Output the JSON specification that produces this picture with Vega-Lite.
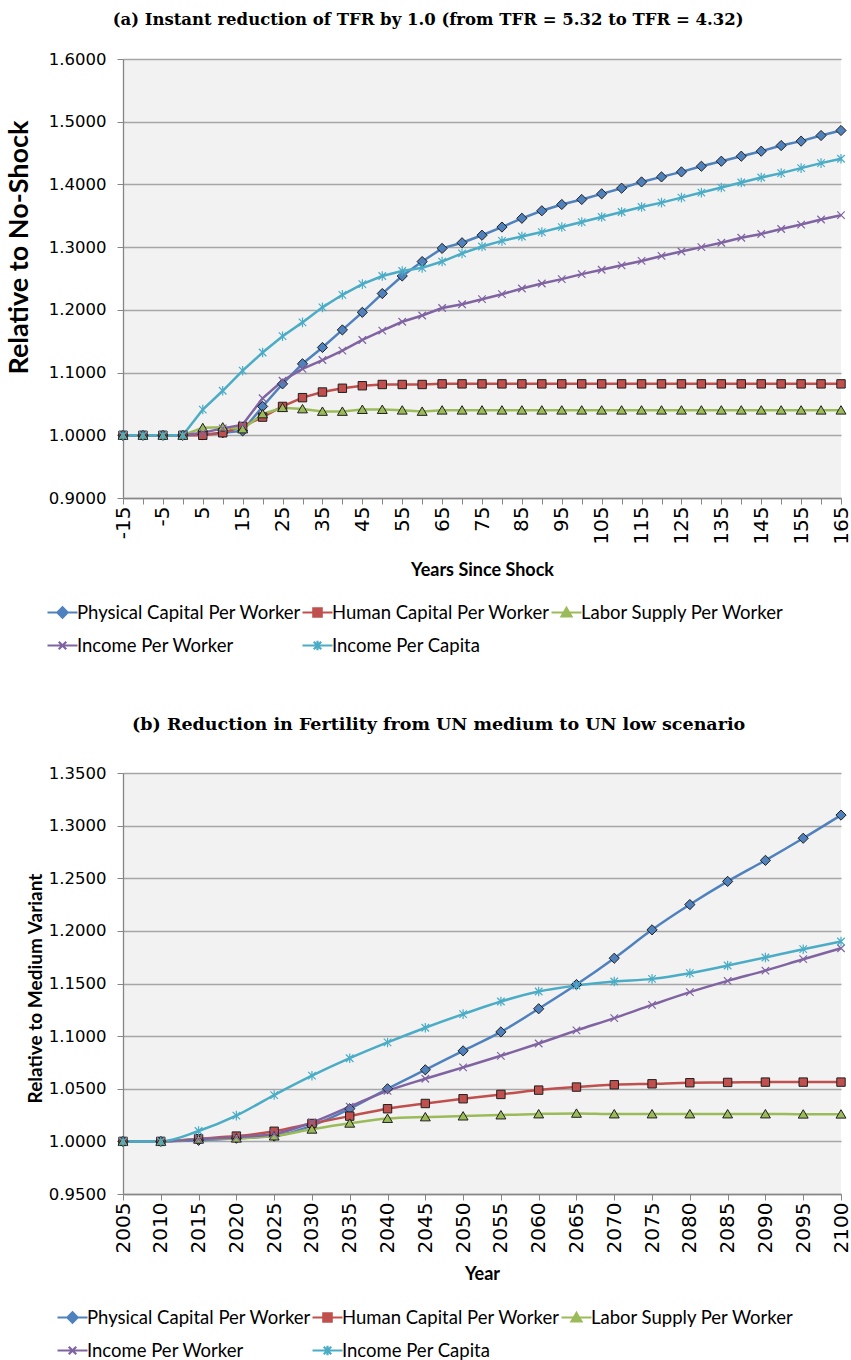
{
  "$schema": "https://vega.github.io/schema/vega-lite/v6.json",
  "background": "white",
  "padding": {"left": 5, "top": 11, "right": 5, "bottom": 5},
  "spacing": 60,
  "columns": 1,
  "align": "none",
  "config": {
    "view": {"stroke": null, "fill": "#F2F2F2"},
    "axis": {"labelFont": "DejaVu Sans", "labelFontSize": 16.5, "labelColor": "#000", "titleFont": "Lato", "titleFontSize": 18, "titleFontWeight": "bold", "titleColor": "#000", "domainColor": "#868686", "tickColor": "#868686", "gridColor": "#A6A6A6", "gridWidth": 1.3, "tickSize": 6, "domainWidth": 1.3},
    "axisX": {"grid": false, "labelAngle": 270, "labelPadding": 2, "labelFontSize": 20, "labelOverlap": false, "titlePadding": 17},
    "axisY": {"grid": true, "labelPadding": 11, "titlePadding": 8, "format": ".4f"},
    "legend": {"orient": "none", "direction": "horizontal", "columns": 3, "title": null, "labelFont": "Lato", "labelFontSize": 18.5, "labelColor": "#000", "labelLimit": 400, "symbolSize": 900, "symbolStrokeWidth": 2.2, "columnPadding": -6, "rowPadding": 7, "labelOffset": -2},
    "title": {"font": "DejaVu Serif", "fontSize": 16.5, "fontWeight": "bold", "color": "#000", "anchor": "middle", "frame": "bounds"}
  },
  "resolve": {"scale": {"color": "independent", "fill": "independent", "shape": "independent", "x": "independent", "y": "independent"}, "legend": {"color": "independent", "shape": "independent", "fill": "independent"}},
  "datasets": {
    "a": [
      {"s":"Physical Capital Per Worker","t":-15,"v":1},{"s":"Physical Capital Per Worker","t":-10,"v":1},{"s":"Physical Capital Per Worker","t":-5,"v":1},{"s":"Physical Capital Per Worker","t":0,"v":1},{"s":"Physical Capital Per Worker","t":5,"v":1.001},{"s":"Physical Capital Per Worker","t":10,"v":1.004},{"s":"Physical Capital Per Worker","t":15,"v":1.007},{"s":"Physical Capital Per Worker","t":20,"v":1.046},{"s":"Physical Capital Per Worker","t":25,"v":1.082},{"s":"Physical Capital Per Worker","t":30,"v":1.114},{"s":"Physical Capital Per Worker","t":35,"v":1.14},{"s":"Physical Capital Per Worker","t":40,"v":1.168},{"s":"Physical Capital Per Worker","t":45,"v":1.196},{"s":"Physical Capital Per Worker","t":50,"v":1.226},{"s":"Physical Capital Per Worker","t":55,"v":1.254},{"s":"Physical Capital Per Worker","t":60,"v":1.277},{"s":"Physical Capital Per Worker","t":65,"v":1.298},{"s":"Physical Capital Per Worker","t":70,"v":1.307},{"s":"Physical Capital Per Worker","t":75,"v":1.319},{"s":"Physical Capital Per Worker","t":80,"v":1.332},{"s":"Physical Capital Per Worker","t":85,"v":1.346},{"s":"Physical Capital Per Worker","t":90,"v":1.358},{"s":"Physical Capital Per Worker","t":95,"v":1.368},{"s":"Physical Capital Per Worker","t":100,"v":1.376},{"s":"Physical Capital Per Worker","t":105,"v":1.385},{"s":"Physical Capital Per Worker","t":110,"v":1.394},{"s":"Physical Capital Per Worker","t":115,"v":1.404},{"s":"Physical Capital Per Worker","t":120,"v":1.412},{"s":"Physical Capital Per Worker","t":125,"v":1.42},{"s":"Physical Capital Per Worker","t":130,"v":1.429},{"s":"Physical Capital Per Worker","t":135,"v":1.437},{"s":"Physical Capital Per Worker","t":140,"v":1.445},{"s":"Physical Capital Per Worker","t":145,"v":1.453},{"s":"Physical Capital Per Worker","t":150,"v":1.462},{"s":"Physical Capital Per Worker","t":155,"v":1.469},{"s":"Physical Capital Per Worker","t":160,"v":1.478},{"s":"Physical Capital Per Worker","t":165,"v":1.486},
      {"s":"Human Capital Per Worker","t":-15,"v":1},{"s":"Human Capital Per Worker","t":-10,"v":1},{"s":"Human Capital Per Worker","t":-5,"v":1},{"s":"Human Capital Per Worker","t":0,"v":1},{"s":"Human Capital Per Worker","t":5,"v":1.0},{"s":"Human Capital Per Worker","t":10,"v":1.004},{"s":"Human Capital Per Worker","t":15,"v":1.014},{"s":"Human Capital Per Worker","t":20,"v":1.029},{"s":"Human Capital Per Worker","t":25,"v":1.046},{"s":"Human Capital Per Worker","t":30,"v":1.06},{"s":"Human Capital Per Worker","t":35,"v":1.069},{"s":"Human Capital Per Worker","t":40,"v":1.075},{"s":"Human Capital Per Worker","t":45,"v":1.079},{"s":"Human Capital Per Worker","t":50,"v":1.081},{"s":"Human Capital Per Worker","t":55,"v":1.081},{"s":"Human Capital Per Worker","t":60,"v":1.081},{"s":"Human Capital Per Worker","t":65,"v":1.082},{"s":"Human Capital Per Worker","t":70,"v":1.082},{"s":"Human Capital Per Worker","t":75,"v":1.082},{"s":"Human Capital Per Worker","t":80,"v":1.082},{"s":"Human Capital Per Worker","t":85,"v":1.082},{"s":"Human Capital Per Worker","t":90,"v":1.082},{"s":"Human Capital Per Worker","t":95,"v":1.082},{"s":"Human Capital Per Worker","t":100,"v":1.082},{"s":"Human Capital Per Worker","t":105,"v":1.082},{"s":"Human Capital Per Worker","t":110,"v":1.082},{"s":"Human Capital Per Worker","t":115,"v":1.082},{"s":"Human Capital Per Worker","t":120,"v":1.082},{"s":"Human Capital Per Worker","t":125,"v":1.082},{"s":"Human Capital Per Worker","t":130,"v":1.082},{"s":"Human Capital Per Worker","t":135,"v":1.082},{"s":"Human Capital Per Worker","t":140,"v":1.082},{"s":"Human Capital Per Worker","t":145,"v":1.082},{"s":"Human Capital Per Worker","t":150,"v":1.082},{"s":"Human Capital Per Worker","t":155,"v":1.082},{"s":"Human Capital Per Worker","t":160,"v":1.082},{"s":"Human Capital Per Worker","t":165,"v":1.082},
      {"s":"Labor Supply Per Worker","t":-15,"v":1},{"s":"Labor Supply Per Worker","t":-10,"v":1},{"s":"Labor Supply Per Worker","t":-5,"v":1},{"s":"Labor Supply Per Worker","t":0,"v":1},{"s":"Labor Supply Per Worker","t":5,"v":1.012},{"s":"Labor Supply Per Worker","t":10,"v":1.013},{"s":"Labor Supply Per Worker","t":15,"v":1.01},{"s":"Labor Supply Per Worker","t":20,"v":1.034},{"s":"Labor Supply Per Worker","t":25,"v":1.044},{"s":"Labor Supply Per Worker","t":30,"v":1.042},{"s":"Labor Supply Per Worker","t":35,"v":1.038},{"s":"Labor Supply Per Worker","t":40,"v":1.038},{"s":"Labor Supply Per Worker","t":45,"v":1.041},{"s":"Labor Supply Per Worker","t":50,"v":1.041},{"s":"Labor Supply Per Worker","t":55,"v":1.04},{"s":"Labor Supply Per Worker","t":60,"v":1.038},{"s":"Labor Supply Per Worker","t":65,"v":1.04},{"s":"Labor Supply Per Worker","t":70,"v":1.04},{"s":"Labor Supply Per Worker","t":75,"v":1.04},{"s":"Labor Supply Per Worker","t":80,"v":1.04},{"s":"Labor Supply Per Worker","t":85,"v":1.04},{"s":"Labor Supply Per Worker","t":90,"v":1.04},{"s":"Labor Supply Per Worker","t":95,"v":1.04},{"s":"Labor Supply Per Worker","t":100,"v":1.04},{"s":"Labor Supply Per Worker","t":105,"v":1.04},{"s":"Labor Supply Per Worker","t":110,"v":1.04},{"s":"Labor Supply Per Worker","t":115,"v":1.04},{"s":"Labor Supply Per Worker","t":120,"v":1.04},{"s":"Labor Supply Per Worker","t":125,"v":1.04},{"s":"Labor Supply Per Worker","t":130,"v":1.04},{"s":"Labor Supply Per Worker","t":135,"v":1.04},{"s":"Labor Supply Per Worker","t":140,"v":1.04},{"s":"Labor Supply Per Worker","t":145,"v":1.04},{"s":"Labor Supply Per Worker","t":150,"v":1.04},{"s":"Labor Supply Per Worker","t":155,"v":1.04},{"s":"Labor Supply Per Worker","t":160,"v":1.04},{"s":"Labor Supply Per Worker","t":165,"v":1.04},
      {"s":"Income Per Worker","t":-15,"v":1},{"s":"Income Per Worker","t":-10,"v":1},{"s":"Income Per Worker","t":-5,"v":1},{"s":"Income Per Worker","t":0,"v":1},{"s":"Income Per Worker","t":5,"v":1.004},{"s":"Income Per Worker","t":10,"v":1.011},{"s":"Income Per Worker","t":15,"v":1.017},{"s":"Income Per Worker","t":20,"v":1.059},{"s":"Income Per Worker","t":25,"v":1.087},{"s":"Income Per Worker","t":30,"v":1.106},{"s":"Income Per Worker","t":35,"v":1.12},{"s":"Income Per Worker","t":40,"v":1.135},{"s":"Income Per Worker","t":45,"v":1.152},{"s":"Income Per Worker","t":50,"v":1.167},{"s":"Income Per Worker","t":55,"v":1.181},{"s":"Income Per Worker","t":60,"v":1.191},{"s":"Income Per Worker","t":65,"v":1.203},{"s":"Income Per Worker","t":70,"v":1.209},{"s":"Income Per Worker","t":75,"v":1.217},{"s":"Income Per Worker","t":80,"v":1.225},{"s":"Income Per Worker","t":85,"v":1.234},{"s":"Income Per Worker","t":90,"v":1.242},{"s":"Income Per Worker","t":95,"v":1.249},{"s":"Income Per Worker","t":100,"v":1.257},{"s":"Income Per Worker","t":105,"v":1.264},{"s":"Income Per Worker","t":110,"v":1.271},{"s":"Income Per Worker","t":115,"v":1.278},{"s":"Income Per Worker","t":120,"v":1.286},{"s":"Income Per Worker","t":125,"v":1.293},{"s":"Income Per Worker","t":130,"v":1.3},{"s":"Income Per Worker","t":135,"v":1.307},{"s":"Income Per Worker","t":140,"v":1.315},{"s":"Income Per Worker","t":145,"v":1.321},{"s":"Income Per Worker","t":150,"v":1.329},{"s":"Income Per Worker","t":155,"v":1.336},{"s":"Income Per Worker","t":160,"v":1.344},{"s":"Income Per Worker","t":165,"v":1.351},
      {"s":"Income Per Capita","t":-15,"v":1},{"s":"Income Per Capita","t":-10,"v":1},{"s":"Income Per Capita","t":-5,"v":1},{"s":"Income Per Capita","t":0,"v":1},{"s":"Income Per Capita","t":5,"v":1.041},{"s":"Income Per Capita","t":10,"v":1.071},{"s":"Income Per Capita","t":15,"v":1.103},{"s":"Income Per Capita","t":20,"v":1.132},{"s":"Income Per Capita","t":25,"v":1.158},{"s":"Income Per Capita","t":30,"v":1.18},{"s":"Income Per Capita","t":35,"v":1.204},{"s":"Income Per Capita","t":40,"v":1.224},{"s":"Income Per Capita","t":45,"v":1.241},{"s":"Income Per Capita","t":50,"v":1.254},{"s":"Income Per Capita","t":55,"v":1.262},{"s":"Income Per Capita","t":60,"v":1.267},{"s":"Income Per Capita","t":65,"v":1.277},{"s":"Income Per Capita","t":70,"v":1.29},{"s":"Income Per Capita","t":75,"v":1.301},{"s":"Income Per Capita","t":80,"v":1.31},{"s":"Income Per Capita","t":85,"v":1.317},{"s":"Income Per Capita","t":90,"v":1.324},{"s":"Income Per Capita","t":95,"v":1.332},{"s":"Income Per Capita","t":100,"v":1.34},{"s":"Income Per Capita","t":105,"v":1.348},{"s":"Income Per Capita","t":110,"v":1.356},{"s":"Income Per Capita","t":115,"v":1.364},{"s":"Income Per Capita","t":120,"v":1.371},{"s":"Income Per Capita","t":125,"v":1.379},{"s":"Income Per Capita","t":130,"v":1.387},{"s":"Income Per Capita","t":135,"v":1.395},{"s":"Income Per Capita","t":140,"v":1.403},{"s":"Income Per Capita","t":145,"v":1.411},{"s":"Income Per Capita","t":150,"v":1.418},{"s":"Income Per Capita","t":155,"v":1.426},{"s":"Income Per Capita","t":160,"v":1.434},{"s":"Income Per Capita","t":165,"v":1.441}
    ],
    "b": [
      {"s":"Physical Capital Per Worker","t":2005,"v":1},{"s":"Physical Capital Per Worker","t":2010,"v":1},{"s":"Physical Capital Per Worker","t":2015,"v":1.001},{"s":"Physical Capital Per Worker","t":2020,"v":1.003},{"s":"Physical Capital Per Worker","t":2025,"v":1.005},{"s":"Physical Capital Per Worker","t":2030,"v":1.015},{"s":"Physical Capital Per Worker","t":2035,"v":1.031},{"s":"Physical Capital Per Worker","t":2040,"v":1.05},{"s":"Physical Capital Per Worker","t":2045,"v":1.068},{"s":"Physical Capital Per Worker","t":2050,"v":1.086},{"s":"Physical Capital Per Worker","t":2055,"v":1.104},{"s":"Physical Capital Per Worker","t":2060,"v":1.126},{"s":"Physical Capital Per Worker","t":2065,"v":1.149},{"s":"Physical Capital Per Worker","t":2070,"v":1.174},{"s":"Physical Capital Per Worker","t":2075,"v":1.201},{"s":"Physical Capital Per Worker","t":2080,"v":1.225},{"s":"Physical Capital Per Worker","t":2085,"v":1.247},{"s":"Physical Capital Per Worker","t":2090,"v":1.267},{"s":"Physical Capital Per Worker","t":2095,"v":1.288},{"s":"Physical Capital Per Worker","t":2100,"v":1.31},
      {"s":"Human Capital Per Worker","t":2005,"v":1},{"s":"Human Capital Per Worker","t":2010,"v":1},{"s":"Human Capital Per Worker","t":2015,"v":1.0025},{"s":"Human Capital Per Worker","t":2020,"v":1.005},{"s":"Human Capital Per Worker","t":2025,"v":1.0096},{"s":"Human Capital Per Worker","t":2030,"v":1.017},{"s":"Human Capital Per Worker","t":2035,"v":1.024},{"s":"Human Capital Per Worker","t":2040,"v":1.031},{"s":"Human Capital Per Worker","t":2045,"v":1.036},{"s":"Human Capital Per Worker","t":2050,"v":1.0405},{"s":"Human Capital Per Worker","t":2055,"v":1.0446},{"s":"Human Capital Per Worker","t":2060,"v":1.0487},{"s":"Human Capital Per Worker","t":2065,"v":1.0516},{"s":"Human Capital Per Worker","t":2070,"v":1.0538},{"s":"Human Capital Per Worker","t":2075,"v":1.0547},{"s":"Human Capital Per Worker","t":2080,"v":1.0557},{"s":"Human Capital Per Worker","t":2085,"v":1.056},{"s":"Human Capital Per Worker","t":2090,"v":1.0563},{"s":"Human Capital Per Worker","t":2095,"v":1.0563},{"s":"Human Capital Per Worker","t":2100,"v":1.0563},
      {"s":"Labor Supply Per Worker","t":2005,"v":1},{"s":"Labor Supply Per Worker","t":2010,"v":1},{"s":"Labor Supply Per Worker","t":2015,"v":1.002},{"s":"Labor Supply Per Worker","t":2020,"v":1.003},{"s":"Labor Supply Per Worker","t":2025,"v":1.005},{"s":"Labor Supply Per Worker","t":2030,"v":1.0115},{"s":"Labor Supply Per Worker","t":2035,"v":1.0172},{"s":"Labor Supply Per Worker","t":2040,"v":1.0217},{"s":"Labor Supply Per Worker","t":2045,"v":1.0232},{"s":"Labor Supply Per Worker","t":2050,"v":1.024},{"s":"Labor Supply Per Worker","t":2055,"v":1.025},{"s":"Labor Supply Per Worker","t":2060,"v":1.026},{"s":"Labor Supply Per Worker","t":2065,"v":1.0266},{"s":"Labor Supply Per Worker","t":2070,"v":1.026},{"s":"Labor Supply Per Worker","t":2075,"v":1.026},{"s":"Labor Supply Per Worker","t":2080,"v":1.026},{"s":"Labor Supply Per Worker","t":2085,"v":1.026},{"s":"Labor Supply Per Worker","t":2090,"v":1.026},{"s":"Labor Supply Per Worker","t":2095,"v":1.0258},{"s":"Labor Supply Per Worker","t":2100,"v":1.0258},
      {"s":"Income Per Worker","t":2005,"v":1},{"s":"Income Per Worker","t":2010,"v":1},{"s":"Income Per Worker","t":2015,"v":1.002},{"s":"Income Per Worker","t":2020,"v":1.004},{"s":"Income Per Worker","t":2025,"v":1.007},{"s":"Income Per Worker","t":2030,"v":1.018},{"s":"Income Per Worker","t":2035,"v":1.033},{"s":"Income Per Worker","t":2040,"v":1.048},{"s":"Income Per Worker","t":2045,"v":1.0595},{"s":"Income Per Worker","t":2050,"v":1.0703},{"s":"Income Per Worker","t":2055,"v":1.0813},{"s":"Income Per Worker","t":2060,"v":1.093},{"s":"Income Per Worker","t":2065,"v":1.1054},{"s":"Income Per Worker","t":2070,"v":1.1171},{"s":"Income Per Worker","t":2075,"v":1.1297},{"s":"Income Per Worker","t":2080,"v":1.1418},{"s":"Income Per Worker","t":2085,"v":1.1525},{"s":"Income Per Worker","t":2090,"v":1.1623},{"s":"Income Per Worker","t":2095,"v":1.1731},{"s":"Income Per Worker","t":2100,"v":1.1835},
      {"s":"Income Per Capita","t":2005,"v":1},{"s":"Income Per Capita","t":2010,"v":1},{"s":"Income Per Capita","t":2015,"v":1.0099},{"s":"Income Per Capita","t":2020,"v":1.0245},{"s":"Income Per Capita","t":2025,"v":1.044},{"s":"Income Per Capita","t":2030,"v":1.0624},{"s":"Income Per Capita","t":2035,"v":1.079},{"s":"Income Per Capita","t":2040,"v":1.094},{"s":"Income Per Capita","t":2045,"v":1.108},{"s":"Income Per Capita","t":2050,"v":1.1209},{"s":"Income Per Capita","t":2055,"v":1.1329},{"s":"Income Per Capita","t":2060,"v":1.1424},{"s":"Income Per Capita","t":2065,"v":1.1481},{"s":"Income Per Capita","t":2070,"v":1.1519},{"s":"Income Per Capita","t":2075,"v":1.1544},{"s":"Income Per Capita","t":2080,"v":1.1598},{"s":"Income Per Capita","t":2085,"v":1.1671},{"s":"Income Per Capita","t":2090,"v":1.1747},{"s":"Income Per Capita","t":2095,"v":1.1826},{"s":"Income Per Capita","t":2100,"v":1.1899}
    ]
  },
  "concat": [
    {
      "title": {"text": "(a) Instant reduction of TFR by 1.0 (from TFR = 5.32 to TFR = 4.32)", "offset": 23},
      "width": 718,
      "height": 439,
      "data": {"name": "a"},
      "encoding": {
        "x": {"field": "t", "type": "quantitative", "scale": {"domain": [-15, 165], "nice": false, "zero": false},
          "axis": {"title": "Years Since Shock", "values": [-15,-10,-5,0,5,10,15,20,25,30,35,40,45,50,55,60,65,70,75,80,85,90,95,100,105,110,115,120,125,130,135,140,145,150,155,160,165], "labelExpr": "(datum.value + 15) % 10 === 0 ? datum.value : ''"}},
        "y": {"field": "v", "type": "quantitative", "scale": {"domain": [0.9, 1.6], "nice": false, "zero": false},
          "axis": {"title": "Relative to No-Shock", "titleFontSize": 27, "titleY": 188, "titlePadding": 15, "values": [0.9, 1.0, 1.1, 1.2, 1.3, 1.4, 1.5, 1.6]}}
      },
      "layer": [
        {
          "mark": {"type": "line", "strokeWidth": 2.5},
          "encoding": {
            "color": {"field": "s", "type": "nominal",
              "scale": {"domain": ["Physical Capital Per Worker", "Human Capital Per Worker", "Labor Supply Per Worker", "Income Per Worker", "Income Per Capita"], "range": ["#4F81BD", "#C0504D", "#9BBB59", "#8064A2", "#4BACC6"]},
              "legend": {"legendX": -77, "legendY": 537}
            }
          }
        },
        {"transform": [{"filter": "datum.s === 'Physical Capital Per Worker'"}], "mark": {"type": "point", "shape": "M0,-0.34L0.34,0L0,0.34L-0.34,0Z", "size": 900, "filled": true, "fill": "#4F81BD", "stroke": "#1F1F1F", "strokeWidth": 1, "opacity": 1}},
        {"transform": [{"filter": "datum.s === 'Human Capital Per Worker'"}], "mark": {"type": "point", "shape": "M-0.28,-0.28L0.28,-0.28L0.28,0.28L-0.28,0.28Z", "size": 900, "filled": true, "fill": "#C0504D", "stroke": "#1F1F1F", "strokeWidth": 1, "opacity": 1}},
        {"transform": [{"filter": "datum.s === 'Labor Supply Per Worker'"}], "mark": {"type": "point", "shape": "M0,-0.3L0.33,0.26L-0.33,0.26Z", "size": 900, "filled": true, "fill": "#9BBB59", "stroke": "#1F1F1F", "strokeWidth": 1, "opacity": 1}},
        {"transform": [{"filter": "datum.s === 'Income Per Worker'"}], "mark": {"type": "point", "shape": "M-0.25,-0.25L0.25,0.25M-0.25,0.25L0.25,-0.25", "size": 900, "filled": false, "stroke": "#8064A2", "strokeWidth": 1.2, "opacity": 1}},
        {"transform": [{"filter": "datum.s === 'Income Per Capita'"}], "mark": {"type": "point", "shape": "M-0.25,-0.25L0.25,0.25M-0.25,0.25L0.25,-0.25M0,-0.32L0,0.32", "size": 900, "filled": false, "stroke": "#4BACC6", "strokeWidth": 1.2, "opacity": 1}},
        {
          "transform": [{"filter": "false"}],
          "mark": {"type": "point", "filled": true, "size": 900},
          "encoding": {
            "shape": {"field": "s", "type": "nominal", "legend": null,
              "scale": {"domain": ["Physical Capital Per Worker", "Human Capital Per Worker", "Labor Supply Per Worker", "Income Per Worker", "Income Per Capita"], "range": ["M-1,0L-0.34,0M0.34,0L1,0M0,-0.34L0.34,0L0,0.34L-0.34,0Z", "M-1,0L-0.28,0M0.28,0L1,0M-0.28,-0.28L0.28,-0.28L0.28,0.28L-0.28,0.28Z", "M-1,0L-0.2,0M0.2,0L1,0M0,-0.3L0.33,0.26L-0.33,0.26Z", "M-1,0L1,0M-0.25,-0.25L0.25,0.25M-0.25,0.25L0.25,-0.25", "M-1,0L1,0M-0.25,-0.25L0.25,0.25M-0.25,0.25L0.25,-0.25M0,-0.32L0,0.32"]}},
            "fill": {"field": "s", "type": "nominal", "legend": null,
              "scale": {"domain": ["Physical Capital Per Worker", "Human Capital Per Worker", "Labor Supply Per Worker", "Income Per Worker", "Income Per Capita"], "range": ["#4F81BD", "#C0504D", "#9BBB59", "#8064A2", "#4BACC6"]}}
          }
        }
      ]
    },
    {
      "title": {"text": "(b) Reduction in Fertility from UN medium to UN low scenario", "offset": 32, "fontSize": 17.5},
      "width": 718,
      "height": 421,
      "data": {"name": "b"},
      "encoding": {
        "x": {"field": "t", "type": "quantitative", "scale": {"domain": [2005, 2100], "nice": false, "zero": false},
          "axis": {"title": "Year", "format": "d", "titlePadding": 13, "values": [2005,2010,2015,2020,2025,2030,2035,2040,2045,2050,2055,2060,2065,2070,2075,2080,2085,2090,2095,2100]}},
        "y": {"field": "v", "type": "quantitative", "scale": {"domain": [0.95, 1.35], "nice": false, "zero": false},
          "axis": {"title": "Relative to Medium Variant", "titleFontSize": 19, "titleY": 215, "titlePadding": 3, "values": [0.95, 1.0, 1.05, 1.1, 1.15, 1.2, 1.25, 1.3, 1.35]}}
      },
      "layer": [
        {
          "mark": {"type": "line", "strokeWidth": 2.5, "interpolate": "monotone"},
          "encoding": {
            "color": {"field": "s", "type": "nominal",
              "scale": {"domain": ["Physical Capital Per Worker", "Human Capital Per Worker", "Labor Supply Per Worker", "Income Per Worker", "Income Per Capita"], "range": ["#4F81BD", "#C0504D", "#9BBB59", "#8064A2", "#4BACC6"]},
              "legend": {"legendX": -67, "legendY": 528}
            }
          }
        },
        {"transform": [{"filter": "datum.s === 'Physical Capital Per Worker'"}], "mark": {"type": "point", "shape": "M0,-0.34L0.34,0L0,0.34L-0.34,0Z", "size": 900, "filled": true, "fill": "#4F81BD", "stroke": "#1F1F1F", "strokeWidth": 1, "opacity": 1}},
        {"transform": [{"filter": "datum.s === 'Human Capital Per Worker'"}], "mark": {"type": "point", "shape": "M-0.28,-0.28L0.28,-0.28L0.28,0.28L-0.28,0.28Z", "size": 900, "filled": true, "fill": "#C0504D", "stroke": "#1F1F1F", "strokeWidth": 1, "opacity": 1}},
        {"transform": [{"filter": "datum.s === 'Labor Supply Per Worker'"}], "mark": {"type": "point", "shape": "M0,-0.3L0.33,0.26L-0.33,0.26Z", "size": 900, "filled": true, "fill": "#9BBB59", "stroke": "#1F1F1F", "strokeWidth": 1, "opacity": 1}},
        {"transform": [{"filter": "datum.s === 'Income Per Worker'"}], "mark": {"type": "point", "shape": "M-0.25,-0.25L0.25,0.25M-0.25,0.25L0.25,-0.25", "size": 900, "filled": false, "stroke": "#8064A2", "strokeWidth": 1.2, "opacity": 1}},
        {"transform": [{"filter": "datum.s === 'Income Per Capita'"}], "mark": {"type": "point", "shape": "M-0.25,-0.25L0.25,0.25M-0.25,0.25L0.25,-0.25M0,-0.32L0,0.32", "size": 900, "filled": false, "stroke": "#4BACC6", "strokeWidth": 1.2, "opacity": 1}},
        {
          "transform": [{"filter": "false"}],
          "mark": {"type": "point", "filled": true, "size": 900},
          "encoding": {
            "shape": {"field": "s", "type": "nominal", "legend": null,
              "scale": {"domain": ["Physical Capital Per Worker", "Human Capital Per Worker", "Labor Supply Per Worker", "Income Per Worker", "Income Per Capita"], "range": ["M-1,0L-0.34,0M0.34,0L1,0M0,-0.34L0.34,0L0,0.34L-0.34,0Z", "M-1,0L-0.28,0M0.28,0L1,0M-0.28,-0.28L0.28,-0.28L0.28,0.28L-0.28,0.28Z", "M-1,0L-0.2,0M0.2,0L1,0M0,-0.3L0.33,0.26L-0.33,0.26Z", "M-1,0L1,0M-0.25,-0.25L0.25,0.25M-0.25,0.25L0.25,-0.25", "M-1,0L1,0M-0.25,-0.25L0.25,0.25M-0.25,0.25L0.25,-0.25M0,-0.32L0,0.32"]}},
            "fill": {"field": "s", "type": "nominal", "legend": null,
              "scale": {"domain": ["Physical Capital Per Worker", "Human Capital Per Worker", "Labor Supply Per Worker", "Income Per Worker", "Income Per Capita"], "range": ["#4F81BD", "#C0504D", "#9BBB59", "#8064A2", "#4BACC6"]}}
          }
        }
      ]
    }
  ]
}
